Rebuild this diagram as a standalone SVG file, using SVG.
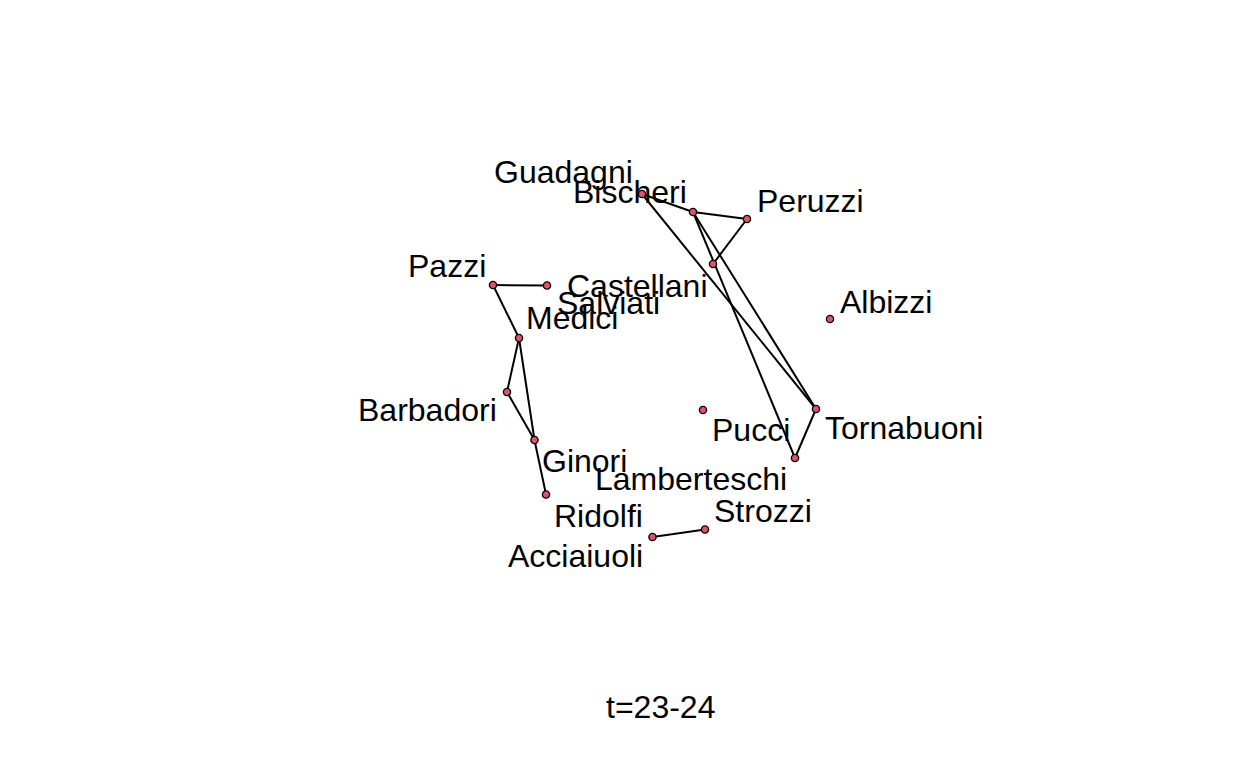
<svg xmlns="http://www.w3.org/2000/svg" width="1248" height="768" viewBox="0 0 1248 768">
<style>
.e{stroke:#000;stroke-width:2;fill:none}
.n{fill:#DF536B;stroke:#000;stroke-width:1.4}
text{font-family:"Liberation Sans",Arial,sans-serif;font-size:32px;fill:#000}
</style>
<rect width="1248" height="768" fill="#fff"/>
<g id="edges">
<line class="e" x1="642" y1="194" x2="693" y2="212"/>
<line class="e" x1="693" y1="212" x2="747" y2="219"/>
<line class="e" x1="747" y1="219" x2="713" y2="264"/>
<line class="e" x1="642" y1="194" x2="816" y2="409"/>
<line class="e" x1="693" y1="212" x2="816" y2="409"/>
<line class="e" x1="693" y1="212" x2="795" y2="458"/>
<line class="e" x1="816" y1="409" x2="795" y2="458"/>
<line class="e" x1="493" y1="285" x2="547" y2="285.5"/>
<line class="e" x1="493" y1="285" x2="519" y2="338"/>
<line class="e" x1="519" y1="338" x2="507" y2="392"/>
<line class="e" x1="519" y1="338" x2="534.5" y2="440"/>
<line class="e" x1="507" y1="392" x2="534.5" y2="440"/>
<line class="e" x1="534.5" y1="440" x2="546" y2="494.5"/>
<line class="e" x1="652.5" y1="537" x2="705" y2="529.5"/>
</g>
<g id="Guadagni"><text x="494" y="183">Guadagni</text></g>
<g id="Bischeri"><circle class="n" cx="642" cy="194" r="3.6"/><text x="573" y="203">Bischeri</text></g>
<g id="n693"><circle class="n" cx="693" cy="212" r="3.6"/></g>
<g id="Peruzzi"><circle class="n" cx="747" cy="219" r="3.6"/><text x="757" y="212">Peruzzi</text></g>
<g id="Castellani"><circle class="n" cx="713" cy="264" r="3.6"/><text x="567" y="297">Castellani</text></g>
<g id="Pazzi"><circle class="n" cx="493" cy="285" r="3.6"/><text x="408" y="277">Pazzi</text></g>
<g id="Salviati"><circle class="n" cx="547" cy="285.5" r="3.6"/><text x="557" y="314">Salviati</text></g>
<g id="Medici"><circle class="n" cx="519" cy="338" r="3.6"/><text x="526" y="329">Medici</text></g>
<g id="Albizzi"><circle class="n" cx="830" cy="319" r="3.6"/><text x="840" y="313">Albizzi</text></g>
<g id="Barbadori"><circle class="n" cx="507" cy="392" r="3.6"/><text x="358" y="421">Barbadori</text></g>
<g id="Pucci"><circle class="n" cx="703" cy="410" r="3.6"/><text x="712" y="441">Pucci</text></g>
<g id="Tornabuoni"><circle class="n" cx="816" cy="409" r="3.6"/><text x="825" y="439">Tornabuoni</text></g>
<g id="Ginori"><circle class="n" cx="534.5" cy="440" r="3.6"/><text x="542" y="472">Ginori</text></g>
<g id="Lamberteschi"><circle class="n" cx="795" cy="458" r="3.6"/><text x="595" y="490">Lamberteschi</text></g>
<g id="Ridolfi"><circle class="n" cx="546" cy="494.5" r="3.6"/><text x="554" y="527">Ridolfi</text></g>
<g id="Strozzi"><circle class="n" cx="705" cy="529.5" r="3.6"/><text x="714" y="522">Strozzi</text></g>
<g id="Acciaiuoli"><circle class="n" cx="652.5" cy="537" r="3.6"/><text x="508" y="567">Acciaiuoli</text></g>
<text x="606" y="718">t=23-24</text>
</svg>
